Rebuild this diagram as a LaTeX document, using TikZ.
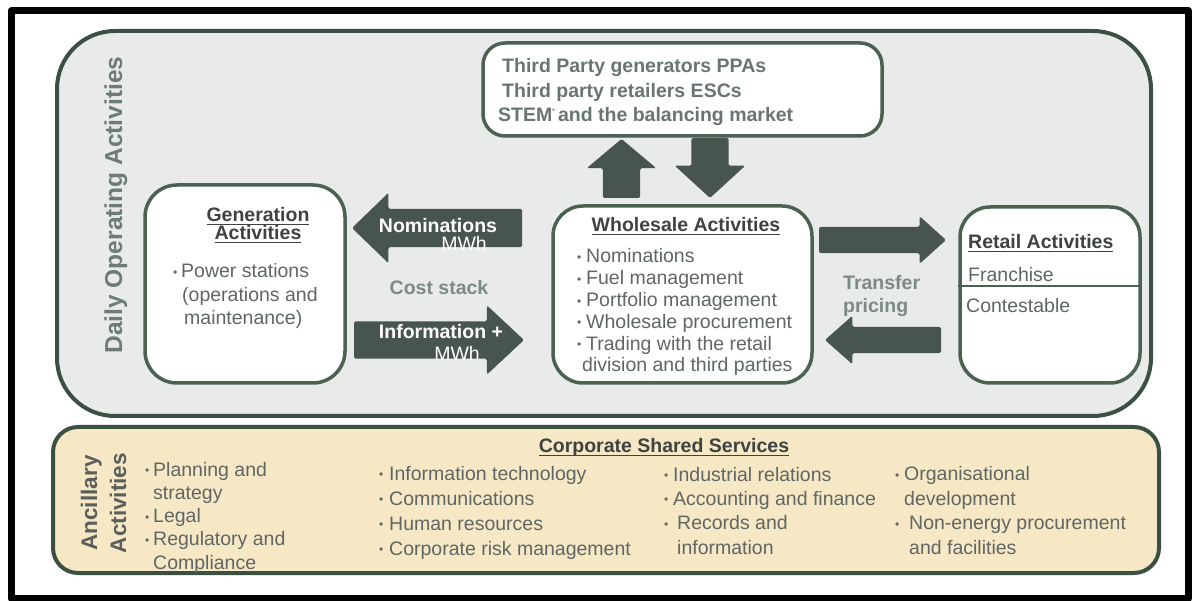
\documentclass[tikz,border=0pt]{standalone}
\usepackage{fontspec}
\setmainfont{Liberation Sans}
\usetikzlibrary{shapes.arrows}

\definecolor{panelline}{HTML}{3B4F43}
\definecolor{panelfill}{HTML}{E9EAEA}
\definecolor{tanfill}{HTML}{F6E8C5}
\definecolor{boxline}{HTML}{4B6253}
\definecolor{arrowfill}{HTML}{48554E}
\definecolor{bodytext}{HTML}{5F6664}
\definecolor{titletext}{HTML}{3E4240}
\definecolor{softtext}{HTML}{7B8A85}
\definecolor{sidetext}{HTML}{6D7D76}

\setlength{\lineskiplimit}{-50pt}
\newcommand{\bul}[1][9]{\makebox[#1pt][l]{\raisebox{1.5pt}{\fontsize{12}{12}\selectfont\textbullet}}}
\newcommand{\ulbar}[1]{\sbox0{#1}\rlap{\rule[-3.2pt]{\wd0}{1.3pt}}\usebox0}

\begin{document}
\begin{tikzpicture}[x=1pt,y=-1pt,line join=round,
  panel/.style={draw=panelline,line width=4pt,rounded corners=#1,inner sep=0pt},
  box/.style={draw=boxline,line width=3.5pt,fill=white,rounded corners=#1,inner sep=0pt},
  blockarrow/.style={single arrow,fill=arrowfill,draw=none,inner xsep=0pt,outer sep=0pt,
    single arrow head extend=#1,rounded corners=1.5pt,anchor=tip},
  txt/.style={inner sep=0pt,text=bodytext,font=\fontsize{19.5}{21.8}\selectfont},
  boldtxt/.style={inner sep=0pt,font=\bfseries\fontsize{19.5}{23}\selectfont},
  ttl/.style={boldtxt,text=titletext},
]
\useasboundingbox (0,0) rectangle (1192,601);
\draw[line width=7pt] (11,11) rectangle (1188.5,598.5);
%%
\node (daily_panel) at (604,223.5) [panel=58,fill=panelfill,minimum width=1094,minimum height=385] {};
\node (anc_panel) at (606,500) [panel=25,fill=tanfill,minimum width=1106,minimum height=146] {};
\node (daily) at (122,205) [anchor=base,rotate=90,inner sep=0pt,text=sidetext,font=\bfseries\fontsize{24.5}{28}\selectfont] {Daily Operating Activities};
%%
\node (third_box) at (682.5,89.5) [box=22,minimum width=399,minimum height=93] {};
\node (gen_box) at (245,284) [box=32,minimum width=200,minimum height=198] {};
\node (whole_box) at (682.5,294.5) [box=30,minimum width=259,minimum height=177] {};
\node (retail_box) at (1050,295) [box=30,minimum width=180,minimum height=176] {};
\draw [boxline,line width=2pt] (retail_box.west |- 0,286) -- (retail_box.east |- 0,286);
%% multi-line texts sit on the baseline of their last line
\node (third_txt) at (502,122) [anchor=base west,boldtxt,text=softtext!85!black,align=left,font=\bfseries\fontsize{19.5}{24.5}\selectfont]
  {Third Party generators PPAs\\ Third party retailers ESCs\\
   \hspace*{-4pt}STEM\raisebox{9pt}{\fontsize{7}{7}\selectfont\textbullet}\,and the balancing market};
\node (gen_title) at (258,240) [anchor=base,ttl,align=center,font=\bfseries\fontsize{19.5}{18}\selectfont]
  {\ulbar{Generation}\\ \ulbar{Activities}};
\node (gen_list) at (173,325) [anchor=base west,txt,align=left,font=\fontsize{19.5}{23.5}\selectfont]
  {\bul[8]Power stations\\ \hspace*{9pt}(operations and\\ \hspace*{11pt}maintenance)};
\node (whole_title) at (686,232) [anchor=base,ttl] {\ulbar{Wholesale Activities}};
\node (whole_list) at (577,372) [anchor=base west,txt,align=left]
  {\bul Nominations\\ \bul Fuel management\\ \bul Portfolio management\\
   \bul Wholesale procurement\\ \bul Trading with the retail\\ \hspace*{5pt}division and third parties};
\node (retail_title) at (968,249) [anchor=base west,ttl] {\ulbar{Retail Activities}};
\node (franchise) at (968,282) [anchor=base west,txt] {Franchise};
\node (contestable) at (966,313) [anchor=base west,txt] {Contestable};
%%
\node (nom_arrow) at (352,228) [blockarrow=16,minimum height=170,inner ysep=19pt,single arrow tip angle=88,rotate=180] {};
\node (info_arrow) at (524,340) [blockarrow=16,minimum height=170,inner ysep=18.5pt,single arrow tip angle=86] {};
\node (up_arrow) at (621.5,139) [blockarrow=16,minimum height=59,inner ysep=18.5pt,single arrow tip angle=100,rotate=90] {};
\node (down_arrow) at (710,198) [blockarrow=16.5,minimum height=60,inner ysep=18.5pt,single arrow tip angle=95,rotate=-90] {};
\node (to_retail) at (946,240) [blockarrow=10.5,minimum height=127,inner ysep=13pt,single arrow tip angle=84] {};
\node (from_retail) at (825,340) [blockarrow=11,minimum height=116,inner ysep=13pt,single arrow tip angle=83,rotate=180] {};
%%
\node (nom_txt) at (438,233) [anchor=base,boldtxt,text=white] {Nominations};
\node (nom_mwh) at (464,251) [anchor=base,txt,text=white] {MWh};
\node (cost_stack) at (439,295) [anchor=base,boldtxt,text=softtext] {Cost stack};
\node (info_txt) at (441,339) [anchor=base,boldtxt,text=white] {Information +};
\node (info_mwh) at (457,361) [anchor=base,txt,text=white] {MWh};
\node (transfer) at (843,313) [anchor=base west,boldtxt,text=softtext,align=left] {Transfer\\ pricing};
%%
\node (ancillary) at (126,503) [anchor=base,rotate=90,inner sep=0pt,align=center,text=titletext!85,font=\bfseries\fontsize{22.5}{29}\selectfont] {Ancillary\\ Activities};
\node (corp_title) at (664,453) [anchor=base,ttl] {\ulbar{Corporate Shared Services}};
\node (svc_1) at (145,569) [anchor=base west,txt,align=left,font=\fontsize{19.5}{23.2}\selectfont]
  {\bul[8]Planning and\\ \hspace*{8pt}strategy\\ \bul[8]Legal\\ \bul[8]Regulatory and\\ \hspace*{8pt}Compliance};
\node (svc_2) at (379,555) [anchor=base west,txt,align=left,font=\fontsize{19.5}{25}\selectfont]
  {\bul[10]Information technology\\ \bul[10]Communications\\ \bul[10]Human resources\\ \bul[10]Corporate risk management};
\node (svc_3) at (664,554) [anchor=base west,txt,align=left,font=\fontsize{19.5}{24.3}\selectfont]
  {\bul Industrial relations\\ \bul Accounting and finance\\ \bul[13]Records and\\ \hspace*{13pt}information};
\node (svc_4) at (895,554) [anchor=base west,txt,align=left,font=\fontsize{19.5}{24.5}\selectfont]
  {\bul Organisational\\ \hspace*{9pt}development\\ \bul[14]Non-energy procurement\\ \hspace*{14pt}and facilities};
%
\end{tikzpicture}
\end{document}
